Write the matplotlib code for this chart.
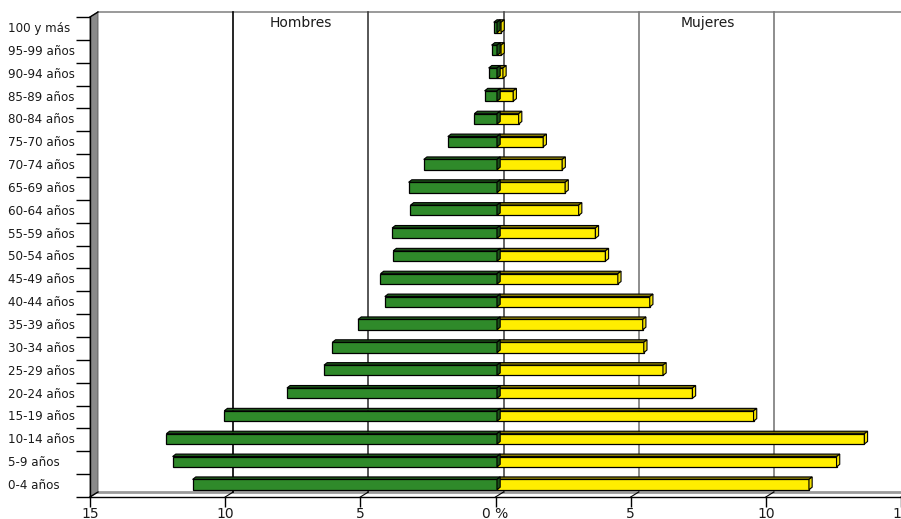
import matplotlib
matplotlib.use('Agg')

import matplotlib.pyplot as plt
import numpy as np
from matplotlib.patches import Polygon
from matplotlib.transforms import offset_copy

# Grupos de edad (de abajo hacia arriba) y porcentajes por sexo
grupos = ['0-4 años', '5-9 años', '10-14 años', '15-19 años', '20-24 años',
          '25-29 años', '30-34 años', '35-39 años', '40-44 años', '45-49 años',
          '50-54 años', '55-59 años', '60-64 años', '65-69 años', '70-74 años',
          '75-70 años', '80-84 años', '85-89 años', '90-94 años', '95-99 años',
          '100 y más']
hombres = [11.26, 12.0, 12.23, 10.09, 7.77, 6.40, 6.09, 5.14, 4.15, 4.31,
           3.84, 3.88, 3.20, 3.27, 2.71, 1.82, 0.84, 0.46, 0.31, 0.20, 0.12]
mujeres = [11.54, 12.56, 13.59, 9.49, 7.23, 6.14, 5.43, 5.39, 5.65, 4.47,
           4.01, 3.64, 3.02, 2.52, 2.41, 1.71, 0.80, 0.60, 0.22, 0.15, 0.15]
ticks_x = [-15, -10, -5, 0, 5, 10, 15]
etiquetas_x = ['15', '10', '5', '0 %', '5', '10', '15']

verde = '#2f8a2a'
verde_osc = '#1c5418'
amarillo = '#ffee00'
amarillo_osc = '#857a00'
amarillo_lado = '#f2e000'

fig = plt.figure(figsize=(9.01, 5.19), dpi=100)
ax = fig.add_axes([90 / 901, 22 / 519, 811 / 901, 480 / 519])
n = len(grupos)
ax.set_xlim(-15, 15)
ax.set_ylim(-0.5, n - 0.5)
ax.set_facecolor('none')

# pixeles por unidad de datos
p0 = ax.transData.transform((0, 0))
p1 = ax.transData.transform((1, 1))
sx, sy = p1[0] - p0[0], p1[1] - p0[1]

# profundidad de las paredes (efecto 3D)
wdx, wdy = 8 / sx, 5 / sy
pared = offset_copy(ax.transData, fig=fig, x=8, y=5, units='dots')

for s in ['top', 'right']:
    ax.spines[s].set_visible(False)
ax.spines['left'].set_linewidth(1)
ax.spines['bottom'].set_linewidth(1)

# pared izquierda gris
ax.add_patch(Polygon([(-15, -0.5), (-15, n - 0.5), (-15 + wdx, n - 0.5 + wdy),
                      (-15 + wdx, -0.5 + wdy)], closed=True, facecolor='#8a8a8a',
                     edgecolor='#555555', lw=0.6, clip_on=False, zorder=1))
ax.plot([-15, -15 + wdx], [n - 0.5, n - 0.5 + wdy], color='black', lw=1,
        clip_on=False, zorder=2)
ax.plot([-15, -15 + wdx], [-0.5, -0.5 + wdy], color='black', lw=1,
        clip_on=False, zorder=2)

# borde superior y suelo de la pared del fondo
ax.plot([-15, 15.5], [n - 0.5, n - 0.5], transform=pared, color='#9a9a9a',
        lw=1.4, clip_on=False, zorder=1)
ax.plot([-15, 15.5], [-0.5, -0.5], transform=pared, color='#9a9a9a',
        lw=2, clip_on=False, zorder=1)

# lineas de division en la pared del fondo
colores_grid = {-10: '#000000', -5: '#3a3a3a', 0: '#4a4a4a', 5: '#7a7a7a', 10: '#7a7a7a'}
for xv, c in colores_grid.items():
    ax.plot([xv, xv], [-0.5, n - 0.5], transform=pared, color=c, lw=1.2,
            clip_on=False, zorder=1)
for xv in [-10, -5, 0, 5, 10, 15]:
    ax.plot([xv, xv + wdx], [-0.5, -0.5 + wdy], color='black', lw=0.8,
            clip_on=False, zorder=2)

ax.text(-7.5, n - 1, 'Hombres', transform=pared, ha='center', va='center',
        fontsize=10, color='#1a1a1a')
ax.text(7.55, n - 1, 'Mujeres', transform=pared, ha='center', va='center',
        fontsize=10, color='#1a1a1a')

# barras con cara superior y lateral
h = 0.45
ddx, ddy = 3.2 / sx, 2.5 / sy
barras = offset_copy(ax.transData, fig=fig, x=1.5, y=1, units='dots')
y = np.arange(n)


def cara_sup(x0, x1, yt, color):
    return Polygon([(x0, yt), (x1, yt), (x1 + ddx, yt + ddy), (x0 + ddx, yt + ddy)],
                   closed=True, facecolor=color, edgecolor='black', lw=0.8,
                   transform=barras, zorder=4)


def cara_lat(x1, yb, yt, color):
    return Polygon([(x1, yb), (x1, yt), (x1 + ddx, yt + ddy), (x1 + ddx, yb + ddy)],
                   closed=True, facecolor=color, edgecolor='black', lw=0.8,
                   transform=barras, zorder=4)


ax.barh(y, mujeres, height=h, color=amarillo, edgecolor='black', lw=0.9,
        transform=barras, zorder=3)
for i, v in enumerate(mujeres):
    ax.add_patch(cara_sup(0, v, i + h / 2, amarillo_osc))
    ax.add_patch(cara_lat(v, i - h / 2, i + h / 2, amarillo_lado))

ax.barh(y, [-v for v in hombres], height=h, color=verde, edgecolor='black',
        lw=0.9, transform=barras, zorder=5)
for i, v in enumerate(hombres):
    p = cara_sup(-v, 0, i + h / 2, verde_osc)
    p.set_zorder(6)
    ax.add_patch(p)
    p = cara_lat(0, i - h / 2, i + h / 2, verde_osc)
    p.set_zorder(6)
    ax.add_patch(p)

# ejes
ax.set_xticks(ticks_x, etiquetas_x)
ax.tick_params(axis='x', length=7, width=1, pad=0.5, labelsize=10,
               labelcolor='#1a1a1a')
ax.set_yticks(y, grupos)
ax.set_yticks(np.arange(n + 1) - 0.5, minor=True)
ax.tick_params(axis='y', which='major', length=0, pad=59, labelsize=8.6,
               labelcolor='#1a1a1a')
ax.tick_params(axis='y', which='minor', length=10, width=1)
for lbl in ax.get_yticklabels():
    lbl.set_horizontalalignment('left')
    lbl.set_verticalalignment('center')

fig.savefig('out.png', dpi=100)
